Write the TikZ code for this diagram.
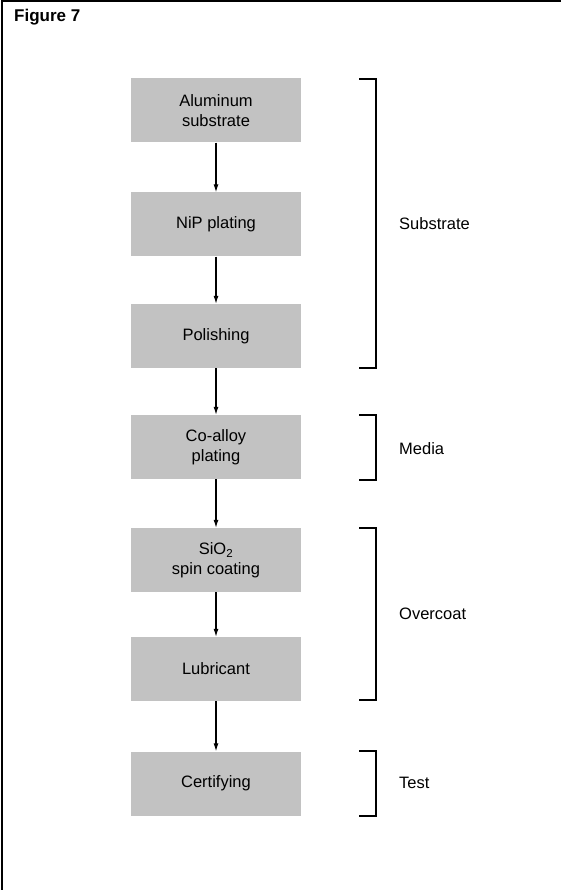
\documentclass[tikz,border=0pt]{standalone}
\usepackage{fontspec}
\setmainfont{Liberation Sans}
\usetikzlibrary{arrows.meta}
\begin{document}
\begin{tikzpicture}[x=1pt,y=-1pt,
  stepbox/.style={fill=black!24, minimum width=170pt, minimum height=64pt, align=center,
    font=\fontsize{16.5}{19.5}\selectfont, inner sep=0pt},
  lbl/.style={anchor=west, font=\fontsize{16.5}{19.5}\selectfont, inner sep=0pt},
  conn/.style={-{Latex[length=8pt,width=5pt]}, line width=1.1pt},
  brk/.style={line width=1.3pt}]
\useasboundingbox (0,0) rectangle (561,890);
\draw[line width=2pt] (2,890) -- (2,1.5) -- (561,1.5);
\node[anchor=west, inner sep=0pt, font=\bfseries\fontsize{17}{20}\selectfont] (title) at (14,17) {Figure 7};

\node[stepbox] (b1) at (216,110.5) {Aluminum\\substrate};
\node[stepbox] (b2) at (216,224.5) {NiP plating};
\node[stepbox] (b3) at (216,336) {Polishing};
\node[stepbox] (b4) at (216,447) {Co-alloy\\plating};
\node[stepbox] (b5) at (216,560) {SiO\textsubscript{2}\\spin coating};
\node[stepbox] (b6) at (216,669) {Lubricant};
\node[stepbox] (b7) at (216,783.5) {Certifying};

\draw[conn] (b1) -- (b2);
\draw[conn] (b2) -- (b3);
\draw[conn] (b3) -- (b4);
\draw[conn] (b4) -- (b5);
\draw[conn] (b5) -- (b6);
\draw[conn] (b6) -- (b7);

% brackets
\coordinate (s1) at (376,79);  \coordinate (s2) at (376,368);
\coordinate (m1) at (376,415); \coordinate (m2) at (376,480);
\coordinate (o1) at (376,528); \coordinate (o2) at (376,700);
\coordinate (t1) at (376,751); \coordinate (t2) at (376,816);
\draw[brk] ([xshift=-17pt]s1) -- (s1) -- (s2) -- ([xshift=-17pt]s2);
\draw[brk] ([xshift=-17pt]m1) -- (m1) -- (m2) -- ([xshift=-17pt]m2);
\draw[brk] ([xshift=-17pt]o1) -- (o1) -- (o2) -- ([xshift=-17pt]o2);
\draw[brk] ([xshift=-17pt]t1) -- (t1) -- (t2) -- ([xshift=-17pt]t2);

\node[lbl] (ls) at (399,224) {Substrate};
\node[lbl] (lm) at (399,449) {Media};
\node[lbl] (lo) at (399,614) {Overcoat};
\node[lbl] (lt) at (399,783) {Test};
\end{tikzpicture}
\end{document}
